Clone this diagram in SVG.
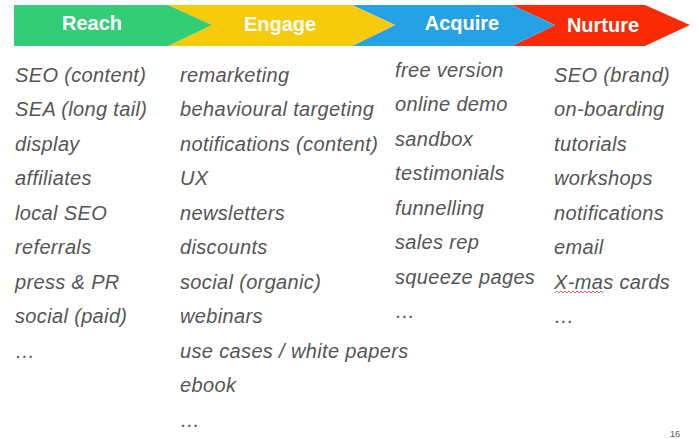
<svg xmlns="http://www.w3.org/2000/svg" width="699" height="439" viewBox="0 0 699 439">
<style>
.h{font-family:"Liberation Sans",Arial,sans-serif;font-weight:bold;font-size:20px;fill:#fff;text-anchor:middle}
.t{font-family:"Liberation Sans",Arial,sans-serif;font-style:italic;font-size:20px;letter-spacing:0.35px;fill:#555}
</style>
<rect width="699" height="439" fill="#fff"/>
<g id="stage-nurture"><polygon points="512,5 645,5 690,25 645,46 512,46 555,25" fill="#fa2a05"/><text class="h" x="603" y="32">Nurture</text></g>
<g id="stage-acquire"><polygon points="352,5 512,5 555,25 512,46 352,46 395,25" fill="#25a2e6"/><text class="h" x="462" y="30">Acquire</text></g>
<g id="stage-engage"><polygon points="168,5 352,5 395,25 352,46 168,46 212,25" fill="#f6cc0a"/><text class="h" x="280" y="31">Engage</text></g>
<g id="stage-reach"><polygon points="14,5 168,5 212,25 168,46 14,46" fill="#33cc77"/><text class="h" x="92" y="30">Reach</text></g>
<g id="col-reach" class="t">
<text x="15" y="82">SEO (content)</text><text x="15" y="116">SEA (long tail)</text><text x="15" y="151">display</text><text x="15" y="185">affiliates</text><text x="15" y="220">local SEO</text><text x="15" y="254">referrals</text><text x="15" y="289">press &amp; PR</text><text x="15" y="323">social (paid)</text><text x="15" y="358">…</text>
</g>
<g id="col-engage" class="t">
<text x="180" y="82">remarketing</text><text x="180" y="116">behavioural targeting</text><text x="180" y="151">notifications (content)</text><text x="180" y="185">UX</text><text x="180" y="220">newsletters</text><text x="180" y="254">discounts</text><text x="180" y="289">social (organic)</text><text x="180" y="323">webinars</text><text x="180" y="358">use cases / white papers</text><text x="180" y="392">ebook</text><text x="180" y="427">…</text>
</g>
<g id="col-acquire" class="t">
<text x="395" y="77">free version</text><text x="395" y="111">online demo</text><text x="395" y="146">sandbox</text><text x="395" y="180">testimonials</text><text x="395" y="215">funnelling</text><text x="395" y="249">sales rep</text><text x="395" y="284">squeeze pages</text><text x="395" y="318">…</text>
</g>
<g id="col-nurture" class="t">
<text x="554" y="82">SEO (brand)</text><text x="554" y="116">on-boarding</text><text x="554" y="151">tutorials</text><text x="554" y="185">workshops</text><text x="554" y="220">notifications</text><text x="554" y="254">email</text><text x="554" y="289">X-mas cards</text><text x="554" y="323">…</text>
</g>
<path d="M555,293 l2,-2 2,2 2,-2 2,2 2,-2 2,2 2,-2 2,2 2,-2 2,2 2,-2 2,2 2,-2 2,2 2,-2 2,2 2,-2 2,2 2,-2 2,2 2,-2 2,2 2,-2 2,2" fill="none" stroke="#d33" stroke-width="0.8"/>
<text x="670" y="437" font-family="Liberation Sans,Arial,sans-serif" font-size="9" fill="#555">16</text>
</svg>
